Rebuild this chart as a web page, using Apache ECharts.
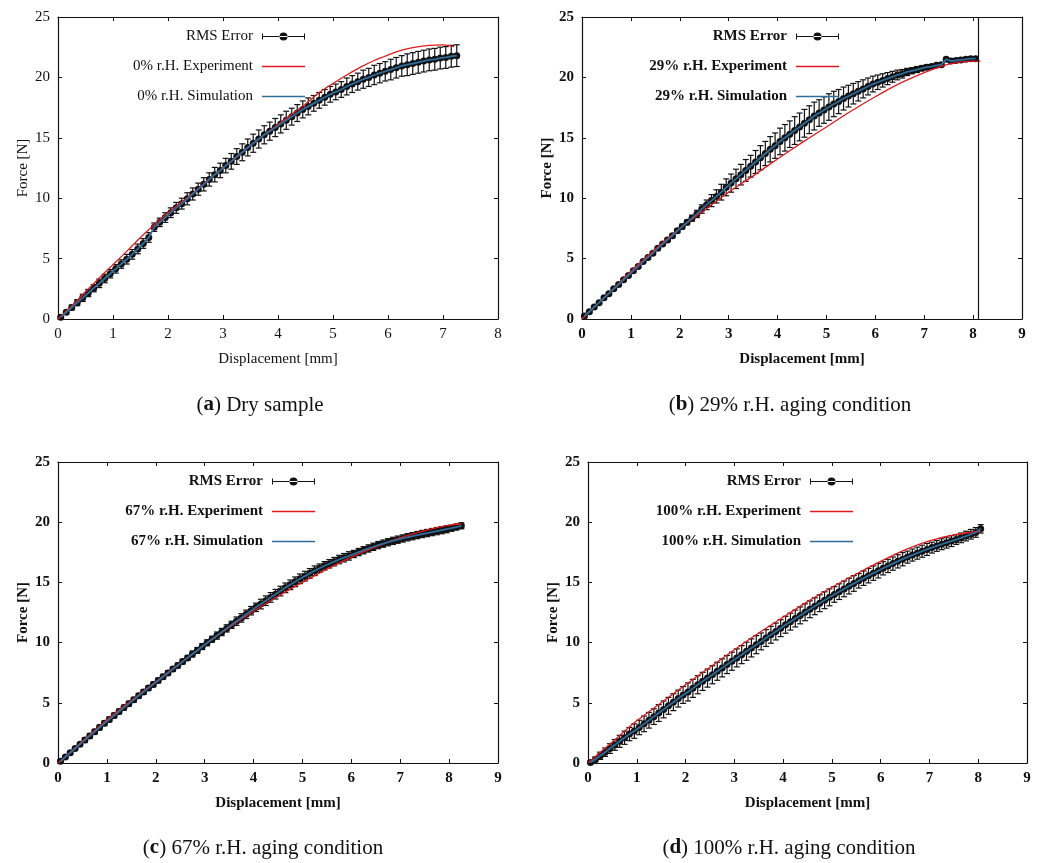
<!DOCTYPE html>
<html>
<head>
    <meta charset="utf-8">
    <title>Force - Displacement</title>
    <script src="https://cdn.jsdelivr.net/npm/echarts@6/dist/echarts.min.js"></script>
    <style>
        html, body { margin: 0; padding: 0; background: #fff; }
    </style>
</head>
<body>
    <div id="box" style="width: 1041px;height: 863px;"></div>
    <script>
        // displacement of the RMS error points [mm]
        var dotX = [
            0.05,0.15,0.25,0.35,0.45,0.55,0.65,0.75,0.85,0.95,
            1.05,1.15,1.25,1.35,1.45,1.55,1.65,1.75,1.85,1.95,
            2.05,2.15,2.25,2.35,2.45,2.55,2.65,2.75,2.85,2.95,
            3.05,3.15,3.25,3.35,3.45,3.55,3.65,3.75,3.85,3.95,
            4.05,4.15,4.25,4.35,4.45,4.55,4.65,4.75,4.85,4.95,
            5.05,5.15,5.25,5.35,5.45,5.55,5.65,5.75,5.85,5.95,
            6.05,6.15,6.25,6.35,6.45,6.55,6.65,6.75,6.85,6.95,
            7.05,7.15,7.25,7.35,7.45,7.55,7.65,7.75,7.85,7.95,
            8.05,8.15,8.25
        ];

        // simulation force [N] (same points as the RMS error dots)
        var simA = [
            0.15,0.55,0.95,1.35,1.75, 2.15,2.55,2.95,3.35,3.75,
            4.15,4.55,4.95,5.35,5.8, 6.25,6.75,7.6,8.0,8.4,
            8.8,9.2,9.55,9.95,10.35, 10.75,11.15,11.55,11.95,12.3,
            12.7,13.05,13.45,13.8,14.2, 14.55,14.9,15.25,15.55,15.85,
            16.15,16.45,16.75,17.05,17.35, 17.6,17.85,18.1,18.35,18.6,
            18.8,19.0,19.25,19.45,19.65, 19.85,20.0,20.2,20.35,20.5,
            20.65,20.8,20.95,21.05,21.15, 21.25,21.35,21.45,21.5,21.6,
            21.65,21.75,21.8
        ];
        var simB = [
            0.25,0.6,1.0,1.35,1.75, 2.1,2.5,2.85,3.25,3.6,
            4.0,4.35,4.75,5.1,5.45, 5.85,6.2,6.55,6.9,7.3,
            7.65,8.0,8.35,8.7,9.1, 9.45,9.8,10.15,10.5,10.9,
            11.25,11.6,11.95,12.3,12.65, 13.0,13.35,13.7,14.05,14.35,
            14.7,15.0,15.3,15.6,15.9, 16.2,16.5,16.8,17.05,17.3,
            17.55,17.8,18.0,18.25,18.45, 18.65,18.85,19.05,19.25,19.45,
            19.6,19.75,19.9,20.05,20.2, 20.3,20.45,20.55,20.65,20.75,
            20.85,20.9,21.0,21.05,21.5, 21.35,21.4,21.45,21.5,21.55,
            21.55
        ];
        var simC = [
            0.15,0.5,0.85,1.2,1.55, 1.9,2.25,2.6,2.95,3.3,
            3.62,3.95,4.28,4.6,4.93, 5.25,5.58,5.9,6.22,6.53,
            6.85,7.17,7.48,7.8,8.1, 8.42,8.73,9.05,9.35,9.67,
            9.98,10.28,10.58,10.88,11.18, 11.48,11.78,12.05,12.35,12.65,
            12.93,13.2,13.48,13.75,14.02, 14.28,14.55,14.8,15.05,15.3,
            15.52,15.75,15.97,16.18,16.38, 16.55,16.72,16.9,17.05,17.2,
            17.36,17.52,17.67,17.82,17.96, 18.1,18.22,18.34,18.45,18.55,
            18.65,18.75,18.84,18.93,19.02, 19.1,19.18,19.26,19.34,19.42,
            19.5,19.6,19.7
        ];
        var simD = [
            0.05,0.3,0.6,0.9,1.2, 1.5,1.8,2.1,2.4,2.65,
            2.95,3.25,3.55,3.85,4.15, 4.45,4.75,5.05,5.35,5.65,
            5.9,6.2,6.5,6.78,7.05, 7.33,7.62,7.9,8.18,8.45,
            8.73,9.0,9.28,9.56,9.83, 10.1,10.38,10.65,10.92,11.2,
            11.48,11.74,12.0,12.26,12.52, 12.77,13.02,13.27,13.52,13.76,
            14.0,14.23,14.46,14.69,14.91, 15.13,15.35,15.56,15.77,15.97,
            16.17,16.37,16.56,16.75,16.93, 17.1,17.27,17.43,17.59,17.74,
            17.89,18.03,18.17,18.3,18.43, 18.56,18.7,18.85,19.0,19.15,
            19.45
        ];

        // RMS error (half length of the bars) [N]
        var errA = [
            0.1,0.15,0.2,0.25,0.3, 0.3,0.3,0.35,0.35,0.35,
            0.35,0.35,0.4,0.4,0.4, 0.4,0.4,0.35,0.35,0.4,
            0.4,0.45,0.45,0.5,0.5, 0.5,0.55,0.55,0.6,0.6,
            0.6,0.65,0.65,0.7,0.7, 0.75,0.75,0.75,0.75,0.75,
            0.75,0.75,0.7,0.7,0.7, 0.7,0.65,0.65,0.65,0.65,
            0.65,0.65,0.7,0.7,0.7, 0.75,0.75,0.8,0.8,0.8,
            0.85,0.85,0.85,0.9,0.9, 0.9,0.9,0.9,0.9,0.9,
            0.9,0.9,0.9
        ];
        var errB = [
            0.1,0.1,0.1,0.1,0.1, 0.1,0.1,0.1,0.1,0.1,
            0.1,0.1,0.1,0.1,0.1, 0.1,0.1,0.15,0.15,0.15,
            0.2,0.2,0.25,0.3,0.35, 0.4,0.5,0.55,0.65,0.7,
            0.75,0.8,0.85,0.9,0.9, 0.95,1.0,1.0,1.05,1.05,
            1.1,1.1,1.1,1.15,1.15, 1.15,1.15,1.15,1.1,1.1,
            1.1,1.05,1.0,0.95,0.9, 0.85,0.8,0.75,0.7,0.65,
            0.6,0.55,0.5,0.45,0.4, 0.35,0.3,0.25,0.25,0.2,
            0.2,0.15,0.15,0.15,0.15, 0.15,0.15,0.15,0.15,0.15,
            0.15
        ];
        var errC = [
            0.1,0.1,0.15,0.15,0.15, 0.2,0.2,0.2,0.2,0.2,
            0.2,0.2,0.2,0.2,0.2, 0.2,0.2,0.2,0.2,0.2,
            0.2,0.2,0.2,0.2,0.2, 0.2,0.2,0.25,0.25,0.25,
            0.25,0.25,0.3,0.3,0.3, 0.3,0.35,0.35,0.35,0.35,
            0.35,0.4,0.4,0.4,0.4, 0.4,0.4,0.4,0.4,0.4,
            0.4,0.4,0.4,0.35,0.35, 0.35,0.35,0.35,0.35,0.35,
            0.3,0.3,0.3,0.3,0.3, 0.3,0.3,0.3,0.3,0.3,
            0.3,0.3,0.3,0.3,0.3, 0.3,0.3,0.3,0.3,0.3,
            0.25,0.25,0.25
        ];
        var errD = [
            0.1,0.2,0.3,0.35,0.4, 0.45,0.5,0.55,0.55,0.6,
            0.6,0.65,0.65,0.65,0.7, 0.7,0.7,0.7,0.7,0.7,
            0.75,0.75,0.75,0.75,0.75, 0.75,0.75,0.75,0.75,0.75,
            0.75,0.75,0.75,0.75,0.75, 0.7,0.7,0.7,0.7,0.7,
            0.7,0.7,0.7,0.7,0.7, 0.7,0.7,0.7,0.7,0.7,
            0.65,0.65,0.65,0.65,0.65, 0.6,0.6,0.6,0.6,0.6,
            0.55,0.55,0.55,0.55,0.55, 0.5,0.5,0.5,0.5,0.5,
            0.45,0.45,0.45,0.45,0.45, 0.4,0.4,0.4,0.4,0.4,
            0.35
        ];

        // experiment curves [displacement, force]
        var expA = [[0,0],[0.25,1.1],[0.5,2.25],[0.75,3.4],[1,4.5],[1.25,5.6],[1.5,6.75],[1.75,7.8],
            [2,8.8],[2.25,9.7],[2.5,10.6],[2.75,11.6],[3,12.5],[3.25,13.4],[3.5,14.35],[3.75,15.25],
            [4,16.1],[4.25,16.95],[4.5,17.8],[4.75,18.75],[5,19.5],[5.25,20.2],[5.5,20.85],[5.75,21.4],
            [6,21.85],[6.25,22.25],[6.5,22.5],[6.75,22.65],[7,22.7],[7.2,22.55]];
        var expB = [[0,0],[0.5,1.95],[1,3.95],[1.5,5.8],[2,7.5],[2.5,9.0],[3,10.5],[3.5,11.85],[4,13.25],
            [4.5,14.6],[5,15.9],[5.5,17.2],[6,18.4],[6.5,19.5],[7,20.4],[7.5,21.1],[8,21.35],[8.15,21.35]];
        var expC = [[0,0],[0.5,1.8],[1,3.6],[1.5,5.2],[2,6.75],[2.5,8.3],[3,9.8],[3.5,11.25],[4,12.6],
            [4.5,13.85],[5,15.0],[5.5,16.1],[6,17.1],[6.5,17.95],[7,18.7],[7.5,19.3],[8,19.75],[8.25,19.85]];
        var expD = [[0,0],[0.5,1.75],[1,3.5],[1.5,5.0],[2,6.5],[2.5,7.95],[3,9.4],[3.5,10.8],[4,12.1],
            [4.5,13.4],[5,14.6],[5.5,15.7],[6,16.75],[6.5,17.7],[7,18.45],[7.5,18.95],[8.05,19.25]];

        var conditions = ['0%', '29%', '67%', '100%'];
        var captionTags = ['a', 'b', 'c', 'd'];
        var captionTexts = ['Dry sample', '29% r.H. aging condition', '67% r.H. aging condition', '100% r.H. aging condition'];
        var xMaxes = [8, 9, 9, 9];
        var limitB = 8.11;   // vertical line in (b)

        var FONT = 'Liberation Serif';
        var INK = '#111';
        var RED = '#e3191c';
        var BLUE = '#2f6d9c';

        var panels = [
            { grid: {left: 58, top: 17, width: 440, height: 302}, legend: {right: 736, top: 29}, cap: [260, 405], sim: simA, err: errA, exp: expA, bold: false },
            { grid: {left: 582, top: 17, width: 440, height: 302}, legend: {right: 202, top: 29}, cap: [790, 405], sim: simB, err: errB, exp: expB, bold: true },
            { grid: {left: 58, top: 462, width: 440, height: 301}, legend: {right: 726, top: 474}, cap: [263, 848], sim: simC, err: errC, exp: expC, bold: true },
            { grid: {left: 588, top: 462, width: 439, height: 301}, legend: {right: 188, top: 474}, cap: [789, 848], sim: simD, err: errD, exp: expD, bold: true }
        ];

        function renderErr(params, api) {
            var x = api.value(0), y = api.value(1), e = api.value(2);
            var c = api.coord([x, y]);
            var t = api.coord([x, y + e]);
            var b = api.coord([x, y - e]);
            var st = {stroke: INK, lineWidth: 1.2};
            return {
                type: 'group',
                children: [
                    {type: 'line', shape: {x1: c[0], y1: t[1], x2: c[0], y2: b[1]}, style: st},
                    {type: 'line', shape: {x1: c[0] - 3, y1: t[1], x2: c[0] + 3, y2: t[1]}, style: st},
                    {type: 'line', shape: {x1: c[0] - 3, y1: b[1], x2: c[0] + 3, y2: b[1]}, style: st},
                    {type: 'circle', shape: {cx: c[0], cy: c[1], r: 3.5}, style: {fill: INK}}
                ]
            };
        }

        // legend icons in a 43 x 12 box (corner specks fix the box size)
        var box = 'M0,0L0.05,0L0,0.05Z M43,12L42.95,12L43,11.95Z ';
        var errIcon = 'path://' + box + 'M0,5.5L43,5.5L43,6.5L0,6.5Z M0,3L1,3L1,9L0,9Z M42,3L43,3L43,9L42,9Z M17.5,6A4,4,0,1,0,25.5,6A4,4,0,1,0,17.5,6Z';
        var lineIcon = 'path://' + box + 'M0,5.35L43,5.35L43,6.65L0,6.65Z';

        var option = {animation: false, grid: [], xAxis: [], yAxis: [], series: [], legend: [], graphic: []};

        panels.forEach(function (p, i) {
            var w = p.bold ? 'bold' : 'normal';
            var lineSt = {color: INK, width: 1.2};
            var tickSt = {inside: true, length: 4, lineStyle: {color: INK, width: 1}};
            var labelSt = {color: INK, fontFamily: FONT, fontSize: 15, fontWeight: w, margin: 8};
            var nameSt = {color: INK, fontFamily: FONT, fontSize: 15, fontWeight: w};
            var rh = conditions[i] + ' r.H.';

            option.grid.push(p.grid);

            option.xAxis.push({
                gridIndex: i, type: 'value', min: 0, max: xMaxes[i], interval: 1,
                name: 'Displacement [mm]', nameLocation: 'middle', nameGap: 33, nameTextStyle: nameSt,
                axisLine: {onZero: false, lineStyle: lineSt}, axisTick: tickSt, axisLabel: labelSt,
                splitLine: {show: false}
            });
            option.xAxis.push({
                gridIndex: i, type: 'value', position: 'top', min: 0, max: xMaxes[i], interval: 1,
                axisLine: {onZero: false, lineStyle: lineSt}, axisTick: tickSt, axisLabel: {show: false},
                splitLine: {show: false}
            });
            option.yAxis.push({
                gridIndex: i, type: 'value', min: 0, max: 25, interval: 5,
                name: 'Force [N]', nameLocation: 'middle', nameGap: 27, nameTextStyle: nameSt,
                axisLine: {onZero: false, lineStyle: lineSt}, axisTick: tickSt, axisLabel: labelSt,
                splitLine: {show: false}
            });
            option.yAxis.push({
                gridIndex: i, type: 'value', position: 'right', min: 0, max: 25, interval: 5,
                axisLine: {onZero: false, lineStyle: lineSt}, axisTick: tickSt, axisLabel: {show: false},
                splitLine: {show: false}
            });

            var pts = p.sim.map(function (v, k) { return [dotX[k], v, p.err[k]]; });
            var simLine = p.sim.map(function (v, k) { return [dotX[k], v]; });

            option.series.push({
                name: 'RMS Error', type: 'custom', xAxisIndex: 2 * i, yAxisIndex: 2 * i,
                renderItem: renderErr, encode: {x: 0, y: 1}, data: pts,
                itemStyle: {color: INK}, z: 2
            });
            option.series.push({
                name: rh + ' Experiment', type: 'line', xAxisIndex: 2 * i, yAxisIndex: 2 * i,
                data: p.exp, smooth: 0.3, symbol: 'none',
                lineStyle: {color: RED, width: 1.3}, itemStyle: {color: RED}, z: 3
            });
            var sim = {
                name: rh + ' Simulation', type: 'line', xAxisIndex: 2 * i, yAxisIndex: 2 * i,
                data: simLine, symbol: 'none',
                lineStyle: {color: BLUE, width: 1.8}, itemStyle: {color: BLUE}, z: 4
            };
            if (i === 1) {
                sim.markLine = {
                    silent: true, symbol: ['none', 'none'], label: {show: false},
                    lineStyle: {color: INK, type: 'solid', width: 1.2},
                    data: [{xAxis: limitB}]
                };
            }
            option.series.push(sim);

            option.legend.push({
                orient: 'vertical', align: 'right', right: p.legend.right, top: p.legend.top,
                padding: 0, itemWidth: 43, itemHeight: 12, itemGap: 15, selectedMode: false,
                textStyle: {color: INK, fontFamily: FONT, fontSize: 15, fontWeight: w, lineHeight: 14, padding: [0, 4, 0, 0]},
                data: [
                    {name: 'RMS Error', icon: errIcon, itemStyle: {color: INK}},
                    {name: rh + ' Experiment', icon: lineIcon, itemStyle: {color: RED}},
                    {name: rh + ' Simulation', icon: lineIcon, itemStyle: {color: BLUE}}
                ]
            });

            option.graphic.push({
                type: 'text', x: p.cap[0], y: p.cap[1],
                style: {
                    text: '({t|' + captionTags[i] + '}) ' + captionTexts[i],
                    fill: INK, font: '21px "' + FONT + '"', align: 'center', verticalAlign: 'middle',
                    rich: {t: {fontWeight: 'bold', fontSize: 21, fontFamily: FONT, fill: INK}}
                }
            });
        });

        var myChart = echarts.init(document.getElementById('box'));
        myChart.setOption(option);
    </script>
</body>
</html>
